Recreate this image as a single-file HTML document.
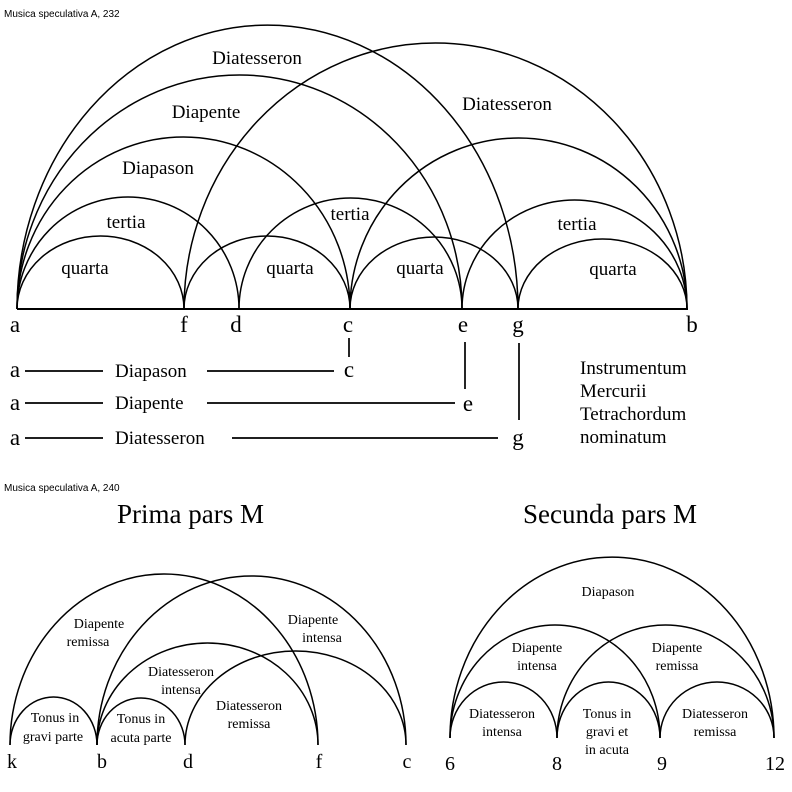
<!DOCTYPE html>
<html><head><meta charset="utf-8"><style>
html,body{margin:0;padding:0;background:#fff;}
svg{display:block;}
text{font-family:"Liberation Serif",serif;fill:#000;}
.s{font-family:"Liberation Sans",sans-serif;}
</style></head><body>
<svg width="792" height="792" viewBox="0 0 792 792" xmlns="http://www.w3.org/2000/svg">
<g fill="none" stroke="#000" stroke-width="1.5">
<!-- top arcs -->
<path d="M17 309 A83.5 73 0 0 1 184 309"/>
<path d="M184 309 A83 73 0 0 1 350 309"/>
<path d="M350 309 A84 72 0 0 1 518 309"/>
<path d="M518 309 A84.5 70 0 0 1 687 309"/>
<path d="M17 309 A111 112 0 0 1 239 309"/>
<path d="M239 309 A111.5 111 0 0 1 462 309"/>
<path d="M462 309 A112.5 109 0 0 1 687 309"/>
<path d="M17 309 A166.5 172 0 0 1 350 309"/>
<path d="M350 309 A168.5 171 0 0 1 687 309"/>
<path d="M17 309 A222.5 234 0 0 1 462 309"/>
<path d="M17 309 A250.5 284 0 0 1 518 309"/>
<path d="M184 309 A251.5 266 0 0 1 687 309"/>
</g>
<line x1="17" y1="309" x2="688" y2="309" stroke="#000" stroke-width="2"/>
<text x="4" y="17" class="s" font-size="10">Musica speculativa A, 232</text>
<g font-size="19" text-anchor="middle">
<text x="257" y="64">Diatesseron</text>
<text x="206" y="118">Diapente</text>
<text x="158" y="174">Diapason</text>
<text x="126" y="228">tertia</text>
<text x="85" y="274">quarta</text>
<text x="290" y="274">quarta</text>
<text x="350" y="220">tertia</text>
<text x="420" y="274">quarta</text>
<text x="507" y="110">Diatesseron</text>
<text x="577" y="230">tertia</text>
<text x="613" y="275">quarta</text>
</g>
<g font-size="23" text-anchor="middle">
<text x="15" y="332">a</text>
<text x="184" y="332">f</text>
<text x="236" y="332">d</text>
<text x="348" y="332">c</text>
<text x="463" y="332">e</text>
<text x="518" y="332">g</text>
<text x="692" y="332">b</text>
<text x="15" y="377">a</text>
<text x="349" y="377">c</text>
<text x="15" y="410">a</text>
<text x="468" y="411">e</text>
<text x="15" y="445">a</text>
<text x="518" y="445">g</text>
</g>
<g stroke="#000" stroke-width="1.7">
<line x1="25" y1="371" x2="103" y2="371"/>
<line x1="207" y1="371" x2="334" y2="371"/>
<line x1="349" y1="338" x2="349" y2="357"/>
<line x1="25" y1="403" x2="103" y2="403"/>
<line x1="207" y1="403" x2="455" y2="403"/>
<line x1="465" y1="342" x2="465" y2="389"/>
<line x1="25" y1="438" x2="103" y2="438"/>
<line x1="232" y1="438" x2="498" y2="438"/>
<line x1="519" y1="343" x2="519" y2="420"/>
</g>
<g font-size="19">
<text x="115" y="377">Diapason</text>
<text x="115" y="409">Diapente</text>
<text x="115" y="444">Diatesseron</text>
<text x="580" y="374">Instrumentum</text>
<text x="580" y="397">Mercurii</text>
<text x="580" y="420">Tetrachordum</text>
<text x="580" y="443">nominatum</text>
</g>

<!-- bottom -->
<text x="4" y="491" class="s" font-size="10">Musica speculativa A, 240</text>
<text x="117" y="523" font-size="27">Prima pars M</text>
<text x="523" y="523" font-size="27">Secunda pars M</text>
<g fill="none" stroke="#000" stroke-width="1.5">
<path d="M10 745 A43.5 48 0 0 1 97 745"/>
<path d="M97 745 A44 47 0 0 1 185 745"/>
<path d="M10 745 A154 171 0 0 1 318 745"/>
<path d="M97 745 A154.5 169 0 0 1 406 745"/>
<path d="M97 745 A110.5 102 0 0 1 318 745"/>
<path d="M185 745 A110.5 94 0 0 1 406 745"/>
<path d="M450 738 A53.5 56 0 0 1 557 738"/>
<path d="M557 738 A51.5 56 0 0 1 660 738"/>
<path d="M660 738 A57 56 0 0 1 774 738"/>
<path d="M450 738 A105 113 0 0 1 660 738"/>
<path d="M557 738 A108.5 113 0 0 1 774 738"/>
<path d="M450 738 A162 181 0 0 1 774 738"/>
</g>
<g font-size="14" text-anchor="middle">
<text x="99" y="628">Diapente</text><text x="88" y="646">remissa</text>
<text x="313" y="624">Diapente</text><text x="322" y="642">intensa</text>
<text x="181" y="676">Diatesseron</text><text x="181" y="694">intensa</text>
<text x="249" y="710">Diatesseron</text><text x="249" y="728">remissa</text>
<text x="55" y="722">Tonus  in</text><text x="53" y="741">gravi parte</text>
<text x="141" y="723">Tonus  in</text><text x="141" y="742">acuta parte</text>
<text x="608" y="596">Diapason</text>
<text x="537" y="652">Diapente</text><text x="537" y="670">intensa</text>
<text x="677" y="652">Diapente</text><text x="677" y="670">remissa</text>
<text x="502" y="718">Diatesseron</text><text x="502" y="736">intensa</text>
<text x="607" y="718">Tonus in</text><text x="607" y="736">gravi et</text><text x="607" y="754">in acuta</text>
<text x="715" y="718">Diatesseron</text><text x="715" y="736">remissa</text>
</g>
<g font-size="20" text-anchor="middle">
<text x="12" y="768">k</text>
<text x="102" y="768">b</text>
<text x="188" y="768">d</text>
<text x="319" y="768">f</text>
<text x="407" y="768">c</text>
<text x="450" y="770">6</text>
<text x="557" y="770">8</text>
<text x="662" y="770">9</text>
<text x="775" y="770">12</text>
</g>
</svg>
</body></html>
